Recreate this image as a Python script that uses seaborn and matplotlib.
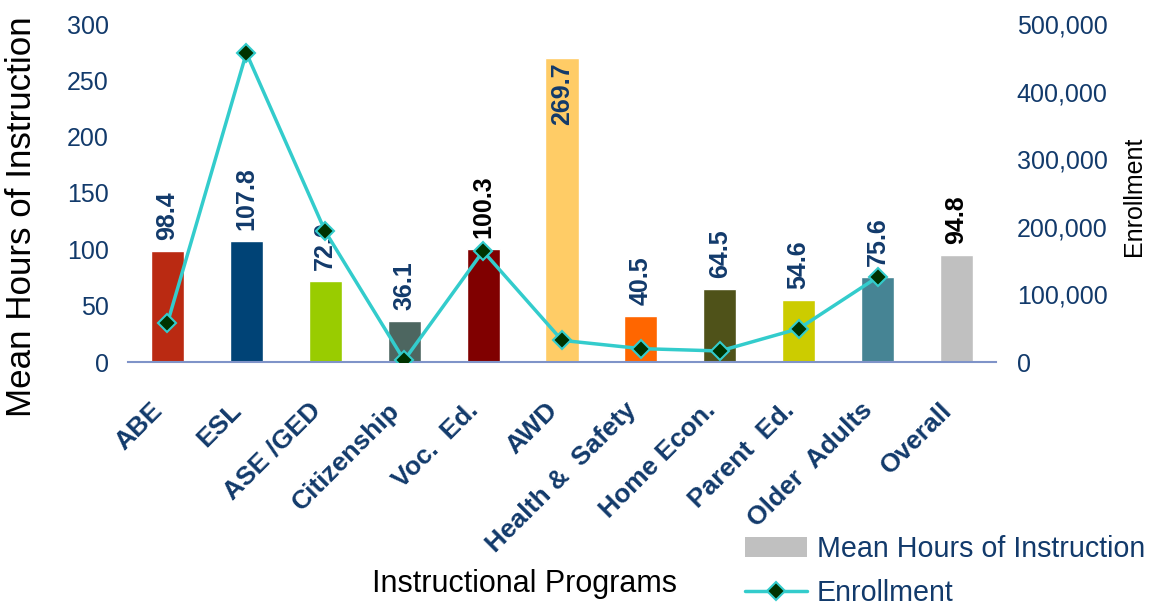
import numpy as np
import pandas as pd
import matplotlib
matplotlib.use("Agg")
import matplotlib.pyplot as plt
import matplotlib.transforms as mtransforms
from matplotlib.lines import Line2D
from matplotlib.patches import Patch
from matplotlib.ticker import FuncFormatter
import seaborn as sns

# ---- data -------------------------------------------------------------
programs = ["ABE", "ESL", "ASE /GED", "Citizenship", "Voc.  Ed.", "AWD",
            "Health &  Safety", "Home Econ.", "Parent  Ed.", "Older  Adults",
            "Overall"]
mean_hours = [98.4, 107.8, 72.0, 36.1, 100.3, 269.7, 40.5, 64.5, 54.6, 75.6, 94.8]
enrollment = [57600, 457100, 193100, 2500, 164000, 32000, 19800, 16300, 49300, 125600]
hour_ticks = [0, 50, 100, 150, 200, 250, 300]
enroll_ticks = [0, 100000, 200000, 300000, 400000, 500000]

# ---- style ------------------------------------------------------------
bar_colors = ["#BA2A12", "#004376", "#99CC00", "#4D6660", "#800000", "#FFCC66",
              "#FF6600", "#4F5219", "#CCCC00", "#468494", "#C0C0C0"]
navy = "#123A6B"
label_colors = [navy, navy, navy, navy, "black", navy, navy, navy, navy, navy, "black"]
axis_color = "#7F93C8"
line_color = "#33CCCC"
marker_fill = "#003300"

sns.set_style("white")
plt.rcParams["font.family"] = ["Liberation Sans", "DejaVu Sans"]

W, H = 1149, 609
fig = plt.figure(figsize=(W / 100, H / 100), dpi=100)
ax = fig.add_axes([128 / W, 1 - 362 / H, 868 / W, 338 / H])

df = pd.DataFrame({"program": programs, "hours": mean_hours})
sns.barplot(data=df, x="program", y="hours", hue="program", order=programs,
            hue_order=programs, palette=bar_colors, saturation=1, width=0.42,
            legend=False, ax=ax)

ax.set_xlim(-0.5, len(programs) - 0.5)
ax.set_ylim(hour_ticks[0], hour_ticks[-1])
ax.set_yticks(hour_ticks)
ax.set_xlabel("")
ax.set_ylabel("")

# value labels above (or inside the top of) each bar
for i, (v, c) in enumerate(zip(mean_hours, label_colors)):
    if v > 250:
        ax.annotate(f"{v:.1f}", (i, v), xytext=(0, -4), textcoords="offset pixels",
                    rotation=90, ha="center", va="top", fontsize=18,
                    fontweight="bold", color=c)
    else:
        ax.annotate(f"{v:.1f}", (i, v), xytext=(0, 11), textcoords="offset pixels",
                    rotation=90, ha="center", va="bottom", fontsize=18,
                    fontweight="bold", color=c)

# axes decoration
for side in ["left", "right", "top"]:
    ax.spines[side].set_visible(False)
ax.spines["bottom"].set_color(axis_color)
ax.spines["bottom"].set_linewidth(1.5)
ax.set_xticks(np.arange(len(programs)))
ax.set_xticks(np.arange(-0.5, len(programs), 1), minor=True)
ax.tick_params(axis="x", which="major", length=0, pad=0)
ax.tick_params(axis="x", which="minor", length=7, width=1.3, color=axis_color,
               direction="out")
ax.tick_params(axis="y", length=0, pad=14, labelsize=18, labelcolor=navy)
ax.set_xticklabels(programs, rotation=45, ha="right", va="top",
                   rotation_mode="anchor", fontsize=19, fontweight="bold",
                   color=navy)
shift = mtransforms.ScaledTranslation(-17 / 100, -36 / 100, fig.dpi_scale_trans)
for lbl in ax.get_xticklabels():
    lbl.set_transform(lbl.get_transform() + shift)

# enrollment line on the secondary axis
ax2 = ax.twinx()
sns.lineplot(x=np.arange(len(enrollment)), y=enrollment, ax=ax2,
             color=line_color, linewidth=2.5, marker="D", markersize=9,
             markerfacecolor=marker_fill, markeredgecolor=line_color,
             markeredgewidth=1.5)
ax2.set_xlim(-0.5, len(programs) - 0.5)
ax2.set_ylim(enroll_ticks[0], enroll_ticks[-1])
ax2.set_yticks(enroll_ticks)
ax2.yaxis.set_major_formatter(FuncFormatter(lambda v, p: f"{v:,.0f}"))
ax2.tick_params(axis="y", length=0, pad=15, labelsize=18, labelcolor=navy)
ax2.set_ylabel("")
ax2.set_xlabel("")
for side in ax2.spines:
    ax2.spines[side].set_visible(False)

# axis titles
ylab = fig.text(22 / W, 1 - 417 / H, "Mean Hours of Instruction", rotation=90,
                ha="center", va="bottom", fontsize=25.2, color="black")
clip = mtransforms.TransformedBbox(mtransforms.Bbox([[0, 0], [1, 1 - 17 / H]]),
                                   fig.transFigure)
ylab.set_clip_box(clip)
ylab.set_clip_on(True)
fig.text(1134 / W, 1 - 196 / H, "Enrollment", rotation=90, ha="center",
         va="center", fontsize=18, color="black")
fig.text(524 / W, 1 - 592 / H, "Instructional Programs", ha="center",
         va="baseline", fontsize=22, color="black")

# legend
handles = [
    Patch(facecolor=bar_colors[-1], edgecolor="none"),
    Line2D([0], [0], color=line_color, linewidth=2.5, marker="D", markersize=9,
           markerfacecolor=marker_fill, markeredgecolor=line_color,
           markeredgewidth=1.5),
]
leg = fig.legend(handles, ["Mean Hours of Instruction", "Enrollment"],
                 loc="center left", bbox_to_anchor=(745 / W, 1 - 571 / H),
                 frameon=False, fontsize=20.6, labelcolor=navy, borderpad=0,
                 borderaxespad=0, handlelength=2.15, handleheight=0.7,
                 handletextpad=0.35, labelspacing=0.58, numpoints=1)

fig.savefig("out.png", dpi=100)
